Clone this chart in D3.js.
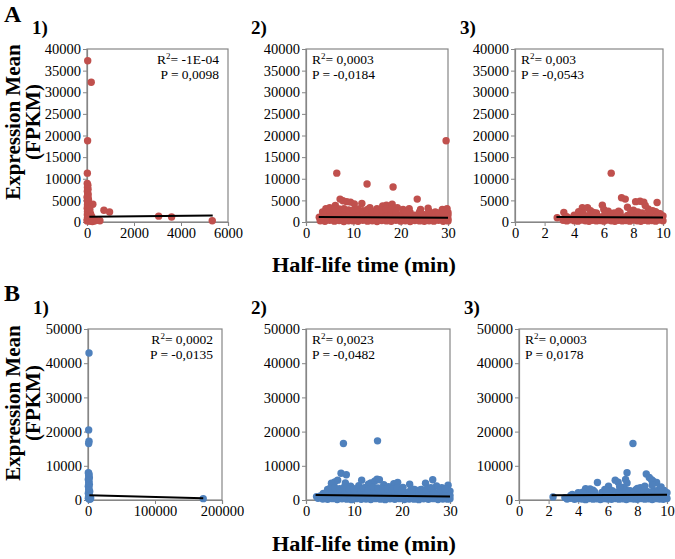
<!DOCTYPE html>
<html><head><meta charset="utf-8">
<script src="https://cdn.jsdelivr.net/npm/d3@7"></script>
<style>body{margin:0;background:#fff}svg{display:block}text{font-family:"Liberation Serif","Times New Roman",serif}</style>
</head><body>
<script>
// ---------- DATA ----------
const xTicksA1 = [0,2000,4000,6000];
const xTicksA2 = [0,10,20,30];
const xTicksA3 = [0,2,4,6,8,10];
const xTicksB1 = [0,100000,200000];
const xTicksB2 = [0,10,20,30];
const xTicksB3 = [0,2,4,6,8,10];
const yTicksA = [0,5000,10000,15000,20000,25000,30000,35000,40000];
const yTicksB = [0,10000,20000,30000,40000,50000];

const statsR2 = ["-1E-04","0,0003","0,003","0,0002","0,0023","0,0003"];
const statsP = ["0,0098","-0,0184","-0,0543","-0,0135","-0,0482","0,0178"];

const a1Trend = [[100,1200],[5350,1500]];
const a2Trend = [[2.7,1150],[30,1000]];
const a3Trend = [[2.8,1150],[10,1050]];
const b1Trend = [[2000,1400],[172000,500]];
const b2Trend = [[2,1450],[30,1050]];
const b3Trend = [[2.2,1370],[10,1550]];

const a1Points = [[30,37300],[180,32300],[25,18800],[15,11300],[10,8900],[35,8500],[20,8000],[45,7600],[15,7100],[30,6700],[50,6300],[20,5900],[40,5500],[60,5200],[15,4900],[30,4600],[70,4300],[250,4100],[20,4000],[45,3700],[90,3500],[10,3200],[35,3000],[60,2800],[110,2600],[20,2400],[50,2200],[80,2000],[150,1900],[15,1700],[40,1500],[100,1400],[200,1300],[25,1100],[60,900],[130,800],[10,600],[50,400],[90,200],[170,300],[230,100],[300,250],[380,350],[550,300],[720,2700],[960,2300],[3050,1350],[3600,1150],[5330,300],[5,250],[5,5700],[70,1000],[120,3000],[200,600]];

const a2Points = [[6.5,11300],[12.9,8800],[18.4,8100],[29.6,18800],[23.5,5300],[7.2,5300],[7.8,4900],[8.6,4700],[9.4,4600],[10.2,4200],[11.8,4300],[6.2,3800],[5.0,3300],[4.2,3100],[3.5,2300],[2.8,1100],[13.5,3300],[15.0,3100],[16.2,3700],[17.0,3900],[18.2,4100],[19.3,3300],[20.5,2900],[21.8,3100],[24.2,2900],[25.8,3200],[27.3,2300],[28.8,2900],[29.8,3100],[30.0,700],
[3,300],[4,150],[5,400],[6,200],[7,350],[8,100],[9,300],[10,250],[11,150],[12,400],[13,200],[14,300],[15,100],[16,350],[17,250],[18,150],[19,400],[20,200],[21,300],[22,100],[23,350],[24,250],[25,150],[26,300],[27,200],[28,400],[29,150],[30,250],
[3.5,900],[4.5,1100],[5.5,1000],[6.5,1200],[7.5,900],[8.5,1100],[9.5,1300],[10.5,1000],[11.5,900],[12.5,1200],[13.5,1100],[14.5,1000],[15.5,1300],[16.5,900],[17.5,1100],[18.5,1200],[19.5,1000],[20.5,900],[21.5,1100],[22.5,1200],[23.5,1000],[24.5,900],[25.5,1100],[26.5,1000],[27.5,1200],[28.5,900],[29.5,1100],
[4,1900],[5,1700],[6,2000],[7,1800],[8,2100],[9,1900],[10,1700],[11,2000],[12,1800],[13,2200],[14,1900],[15,1700],[16,2000],[17,2100],[18,1800],[19,1900],[20,1700],[21,2000],[22,1800],[23,1600],[24,1900],[25,1700],[26,2000],[27,1500],[28,1800],[29,1900],[30,1600],
[5,2700],[6,2900],[7,3000],[8,3100],[9,2800],[10,2700],[11,3000],[12,2600],[13,2900],[14,2500],[15,2600],[16,2800],[17,3000],[18,2900],[19,2500],[21,2400],[22,2200],[24,2300],[26,2500],[28,2100],[29,2300],[30,2200]];

const a3Points = [[6.5,11300],[7.2,5600],[7.45,5300],[8.15,4700],[8.45,4800],[8.7,4600],[9.6,4500],[3.3,2200],[4.0,1600],[4.55,3300],[4.9,3300],[5.4,1800],[5.9,3900],[6.0,2900],[6.7,2100],[7.0,2500],[7.6,3400],[8.0,2700],[9.0,3000],[9.3,2600],[9.8,1900],[10.0,1400],[2.85,1000],[5.5,2100],[6.3,2500],[3.6,900],[4.3,2400],[5.1,2600],[8.8,3800],[9.5,2400],
[3.25,400],[3.5,250],[3.75,500],[4,300],[4.25,200],[4.5,450],[4.75,300],[5,150],[5.25,400],[5.5,250],[5.75,350],[6,200],[6.25,450],[6.5,300],[6.75,150],[7,400],[7.25,250],[7.5,350],[7.75,200],[8,450],[8.25,300],[8.5,150],[8.75,400],[9,250],[9.25,350],[9.5,200],[9.75,450],[10,300],
[3.5,1200],[3.9,1000],[4.2,1300],[4.6,1100],[4.9,1400],[5.2,1000],[5.6,1300],[5.9,1200],[6.2,1500],[6.6,1100],[6.9,1400],[7.2,1200],[7.6,1500],[7.9,1100],[8.2,1400],[8.6,1300],[8.9,1600],[9.2,1100],[9.6,1400],[9.9,1200],
[4.6,2000],[5.3,2200],[6.1,2000],[6.5,1900],[7.1,2200],[7.8,2000],[8.3,2300],[8.6,2100],[9.1,2200],[9.7,2000],[6.9,1800]];

const b1Points = [[1500,43000],[1000,20500],[1500,17200],[1000,16500],[500,8000],[1500,7500],[1000,7000],[2000,6500],[500,6000],[1500,5500],[1000,5000],[2000,4500],[500,4000],[1500,3500],[1000,3000],[2500,2500],[500,2000],[1500,1500],[1000,1000],[3000,800],[500,500],[2000,200],[3500,300],[1000,7800],[2000,1200],[4000,600],[172000,400]];

const b2Points = [[7.8,16500],[14.9,17300],[7.3,7800],[8.4,7400],[6.0,5300],[6.6,5800],[5.3,4900],[8.2,5000],[9.3,4000],[11.6,5800],[13.5,5000],[14.3,5500],[14.8,6100],[15.3,5900],[16.2,4500],[18.3,4800],[19.1,5100],[21.6,4600],[24.9,4900],[26.4,5900],[27.2,4100],[28.3,3600],[29.6,4300],[30,2600],[4.5,3100],[3.6,1900],[2.2,1000],[10.2,3200],[12.2,3600],[17.2,3900],[20.2,3700],[22.6,3100],[23.6,2900],[25.6,3400],[29.0,3100],[11.0,4200],[13.0,4600],
[2.5,500],[3.5,300],[4.5,200],[5.5,400],[6.5,150],[7.5,350],[8.5,250],[9.5,100],[10.5,400],[11.5,200],[12.5,300],[13.5,150],[14.5,400],[15.5,250],[16.5,100],[17.5,350],[18.5,200],[19.5,400],[20.5,150],[21.5,300],[22.5,250],[23.5,100],[24.5,350],[25.5,200],[26.5,400],[27.5,150],[28.5,300],[29.5,250],[30,400],
[3,1200],[4,1400],[5,1100],[6,1500],[7,1300],[8,1200],[9,1600],[10,1100],[11,1400],[12,1300],[13,1200],[14,1500],[15,1100],[16,1400],[17,1300],[18,1600],[19,1200],[20,1100],[21,1400],[22,1300],[23,1200],[24,1500],[25,1100],[26,1400],[27,1300],[28,1200],[29,1500],[30,1300],
[4.5,2400],[5.5,2200],[6.5,2600],[7.5,2300],[8.5,2500],[9.5,2200],[10.5,2400],[11.5,2600],[12.5,2300],[13.5,2500],[14.5,2700],[15.5,2400],[16.5,2200],[17.5,2500],[18.5,2300],[19.5,2600],[20.5,2200],[21.5,2400],[22.5,2100],[23.5,2300],[24.5,2500],[25.5,2200],[26.5,2400],[27.5,2100],[28.5,2300],[29.5,2200],
[5,3400],[6,3600],[7,3300],[8,3800],[9,3100],[10,3200],[12,3400],[13,3100],[14,3700],[15,3500],[16,3200],[17,3300],[18,3100],[19,3500],[20,3000],[22,3200],[24,3100],[25,3000],[26,3600],[28,3000],[29,3300]];

const b3Points = [[7.7,16500],[7.3,8000],[8.6,7600],[8.8,6600],[9.05,5600],[9.3,5100],[6.5,5800],[6.7,5200],[5.3,5100],[7.3,5000],[4.5,3300],[6.05,4000],[3.6,1600],[2.3,900],[5.0,2900],[5.8,3100],[7.9,3000],[9.5,3300],[9.8,2800],[10.0,2100],[4.0,2100],[8.2,3600],[8.95,5900],[7.2,6000],[4.8,3200],[6.3,2700],[3.1,700],
[3.25,300],[3.5,500],[3.75,200],[4,400],[4.25,300],[4.5,100],[4.75,450],[5,250],[5.25,350],[5.5,150],[5.75,400],[6,300],[6.25,200],[6.5,450],[6.75,250],[7,350],[7.25,150],[7.5,400],[7.75,300],[8,200],[8.25,450],[8.5,250],[8.75,350],[9,150],[9.25,400],[9.5,300],[9.75,200],[10,450],
[3.5,1300],[3.9,1200],[4.2,1500],[4.6,1300],[4.9,1600],[5.2,1200],[5.6,1500],[5.9,1400],[6.2,1700],[6.6,1300],[6.9,1600],[7.2,1400],[7.6,1700],[7.9,1300],[8.2,1600],[8.6,1500],[8.9,1800],[9.2,1300],[9.6,1600],[9.9,1400],
[4.3,2300],[5.1,2400],[5.6,2200],[6.1,2600],[6.6,2300],[7.0,2500],[7.5,2700],[7.8,2200],[8.3,2600],[8.7,2400],[9.1,2800],[9.4,2300],[9.8,2600],[5.9,2800],[7.2,3100],
[8.0,3400],[8.5,4000],[9.0,4300],[7.0,3700],[6.8,3900],[9.6,3800]];

// ---------- LAYOUT ----------
const W = 675, H = 559;
const RED = "#C0504D", BLUE = "#4F81BD", GRID = "#868686";
const svg = d3.select("body").append("svg").attr("width", W).attr("height", H);

const panels = [
  {pts:a1Points, trend:a1Trend, xt:xTicksA1, yt:yTicksA, box:[87,228,49,222], col:RED, i:0, label:"1)", statsRight:true},
  {pts:a2Points, trend:a2Trend, xt:xTicksA2, yt:yTicksA, box:[306,448,49,222], col:RED, i:1, label:"2)"},
  {pts:a3Points, trend:a3Trend, xt:xTicksA3, yt:yTicksA, box:[515,663,49,222], col:RED, i:2, label:"3)"},
  {pts:b1Points, trend:b1Trend, xt:xTicksB1, yt:yTicksB, box:[88,222,329,500], col:BLUE, i:3, label:"1)", statsRight:true},
  {pts:b2Points, trend:b2Trend, xt:xTicksB2, yt:yTicksB, box:[306,450,329,500], col:BLUE, i:4, label:"2)"},
  {pts:b3Points, trend:b3Trend, xt:xTicksB3, yt:yTicksB, box:[519,667,329,500], col:BLUE, i:5, label:"3)"}
];

panels.forEach(p => {
  const [l,r,t,b] = p.box;
  const x = d3.scaleLinear().domain(d3.extent(p.xt)).range([l,r]);
  const y = d3.scaleLinear().domain(d3.extent(p.yt)).range([b,t]);
  const g = svg.append("g");
  g.append("rect").attr("x",l).attr("y",t).attr("width",r-l).attr("height",b-t)
    .attr("fill","none").attr("stroke",GRID).attr("stroke-width",1.2);
  const ya = g.append("g").attr("transform",`translate(${l},0)`)
    .call(d3.axisLeft(y).tickValues(p.yt).tickFormat(d3.format("d")).tickSize(4).tickPadding(2));
  const xa = g.append("g").attr("transform",`translate(0,${b})`)
    .call(d3.axisBottom(x).tickValues(p.xt).tickFormat(d3.format("d")).tickSize(4).tickPadding(2));
  [ya,xa].forEach(a => {
    a.select(".domain").attr("stroke",GRID).attr("stroke-width",1.2);
    a.selectAll(".tick line").attr("stroke",GRID);
    a.selectAll(".tick text").attr("fill","#000").style("font-size","14.5px").style("font-family","Liberation Serif");
  });
  g.append("g").selectAll("circle").data(p.pts).join("circle")
    .attr("cx",d=>x(d[0])).attr("cy",d=>y(d[1])).attr("r",3.7).attr("fill",p.col);
  g.append("path").datum(p.trend).attr("d",d3.line().x(d=>x(d[0])).y(d=>y(d[1])))
    .attr("stroke","#000").attr("stroke-width",2).attr("fill","none");
  const sx = p.statsRight ? r-9 : l+6;
  const anchor = p.statsRight ? "end" : "start";
  const t1 = g.append("text").attr("x",sx).attr("y",t+15).attr("text-anchor",anchor).style("font-size","13.5px");
  t1.append("tspan").text("R");
  t1.append("tspan").attr("dy",-5).style("font-size","9px").text("2");
  t1.append("tspan").attr("dy",5).text("= " + statsR2[p.i]);
  g.append("text").attr("x",sx).attr("y",t+30).attr("text-anchor",anchor).style("font-size","13.5px")
    .text("P = " + statsP[p.i]);
  g.append("text").attr("x", l - 55).attr("y", t-15)
    .style("font-size","19px").style("font-weight","bold").text(p.label);
});

svg.append("text").attr("x",4).attr("y",22).style("font-size","24px").style("font-weight","bold").text("A");
svg.append("text").attr("x",4).attr("y",301).style("font-size","24px").style("font-weight","bold").text("B");

[122,403].forEach(cy => {
  const tt = svg.append("text").attr("transform",`translate(20,${cy}) rotate(-90)`)
    .attr("text-anchor","middle").style("font-size","21px").style("font-weight","bold");
  tt.append("tspan").attr("x",0).attr("dy",0).text("Expression Mean");
  tt.append("tspan").attr("x",0).attr("dy",20).text("(FPKM)");
});

[272,551].forEach(by => {
  svg.append("text").attr("x",364).attr("y",by).attr("text-anchor","middle")
    .attr("textLength",184).attr("lengthAdjust","spacingAndGlyphs")
    .style("font-size","20px").style("font-weight","bold").text("Half-life time (min)");
});
</script>
</body></html>
